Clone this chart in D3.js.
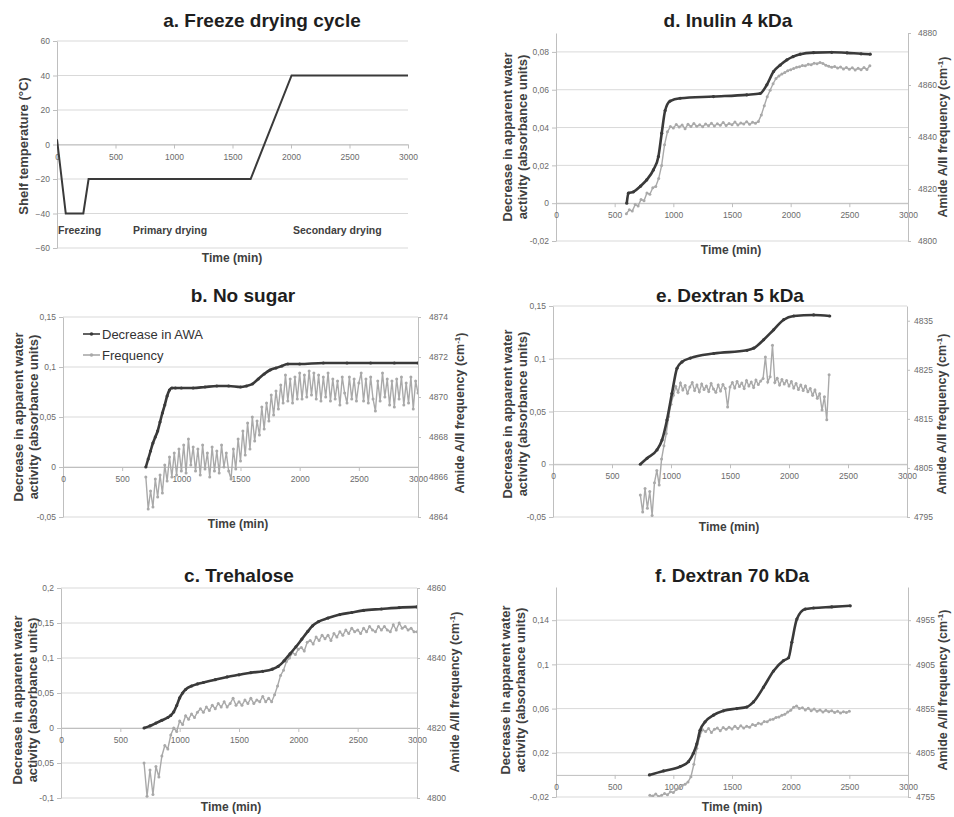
<!DOCTYPE html>
<html>
<head>
<meta charset="utf-8">
<script src="https://cdn.jsdelivr.net/npm/d3@7"></script>
<style>
  body { margin: 0; background: #fff; }
  svg { display: block; font-family: "Liberation Sans", Arial, sans-serif; }
  .tick text { fill: #6b6b6b; font-size: 8.5px; }
  .tick line, .domain { stroke: #bfbfbf; }
</style>
</head>
<body>
<div id="chart"></div>
<script>
// ---------- Data ----------
var timeTicks = [0, 500, 1000, 1500, 2000, 2500, 3000];

// a. shelf temperature program
var aTime = [0, 75, 225, 270, 1655, 2005, 3000];
var aTemp = [3, -40, -40, -20, -20, 40, 40];
var aTicks = [-60, -40, -20, 0, 20, 40, 60];
var aPhases = ["Freezing", "Primary drying", "Secondary drying"];

// b. No sugar
var bAwaTime = [700, 720, 740, 760, 780, 800, 820, 840, 860, 880, 900, 920, 950, 1000, 1100, 1200, 1300, 1400, 1500, 1550, 1600, 1650, 1700, 1750, 1800, 1850, 1900, 2000, 2200, 2400, 2600, 2800, 3000];
var bAwa = [0, 0.008, 0.016, 0.024, 0.03, 0.036, 0.045, 0.054, 0.062, 0.071, 0.077, 0.079, 0.079, 0.079, 0.079, 0.08, 0.081, 0.081, 0.08, 0.081, 0.083, 0.088, 0.093, 0.097, 0.099, 0.101, 0.103, 0.103, 0.104, 0.104, 0.104, 0.104, 0.104];
var bFreqStart = 700, bFreqStep = 20;
var bFreq = [4866.0, 4864.4, 4865.3, 4864.5, 4865.9, 4865.0, 4866.1, 4865.2, 4866.6, 4865.8,
  4867.0, 4866.0, 4867.2, 4866.1, 4867.4, 4866.3, 4867.6, 4866.2, 4867.9, 4866.6,
  4867.5, 4866.3, 4867.4, 4866.1, 4867.6, 4866.4, 4867.2, 4866.0, 4867.5, 4866.3,
  4867.3, 4866.2, 4867.6, 4866.5, 4867.2, 4866.3, 4865.9, 4867.4, 4866.4, 4867.9,
  4866.8, 4868.3, 4867.1, 4868.7, 4867.4, 4869.0, 4867.8, 4868.8, 4868.1, 4869.5,
  4868.4, 4869.7, 4868.8, 4870.1, 4869.1, 4870.3, 4869.4, 4870.6, 4869.7, 4871.1,
  4869.8, 4870.9, 4869.7, 4871.0, 4869.9, 4871.2, 4869.9, 4871.1, 4870.0, 4871.3,
  4870.1, 4871.2, 4869.9, 4871.1, 4869.8, 4871.0, 4870.0, 4871.2, 4869.8, 4870.9,
  4869.9, 4870.8, 4869.6, 4871.0, 4870.2, 4869.7, 4871.0, 4869.9, 4870.9, 4869.8,
  4870.7, 4871.2, 4869.8, 4870.9, 4869.7, 4871.0, 4869.9, 4869.3, 4870.8, 4869.8,
  4871.2, 4870.0, 4870.9, 4869.6, 4870.8, 4869.5, 4870.9, 4869.9, 4871.0, 4869.6,
  4870.7, 4869.7, 4871.0, 4869.4, 4870.8, 4870.2];
var bTicks = [-0.05, 0, 0.05, 0.1, 0.15];
var bFreqTicks = [4864, 4866, 4868, 4870, 4872, 4874];

// c. Trehalose
var cAwaTime = [700, 750, 800, 850, 900, 925, 950, 975, 1000, 1025, 1050, 1100, 1150, 1200, 1300, 1400, 1500, 1600, 1700, 1780, 1830, 1880, 1930, 1980, 2030, 2080, 2120, 2170, 2250, 2350, 2450, 2550, 2700, 2850, 3000];
var cAwa = [0, 0.003, 0.007, 0.011, 0.015, 0.018, 0.023, 0.032, 0.043, 0.05, 0.055, 0.06, 0.063, 0.065, 0.069, 0.073, 0.076, 0.079, 0.081, 0.084, 0.088, 0.096, 0.106, 0.116, 0.127, 0.138, 0.146, 0.152, 0.157, 0.162, 0.165, 0.168, 0.17, 0.172, 0.173];
var cFreqStart = 700, cFreqStep = 25;
var cFreq = [4810, 4800.5, 4808, 4801, 4809, 4806, 4812, 4815, 4814, 4818,
  4820, 4819, 4822, 4821, 4823.5, 4822.5, 4824, 4823, 4824.5, 4825.5,
  4824.5, 4826, 4825, 4826.5, 4825.5, 4827, 4826, 4827.5, 4826, 4827,
  4828.5, 4826.5, 4827.5, 4826.5, 4828, 4827, 4828.5, 4827, 4828, 4827.5,
  4829, 4827.5, 4828.5, 4827.5, 4829.5, 4832, 4835, 4836.5, 4839, 4840,
  4841.5, 4841, 4842.5, 4843, 4842, 4844.5, 4845, 4844, 4846, 4845,
  4846.5, 4845.5, 4846.5, 4845, 4847, 4846, 4847.5, 4846.5, 4848, 4847,
  4848.5, 4847.5, 4848, 4847, 4848.5, 4847.5, 4849, 4848, 4847.5, 4849,
  4848, 4849, 4848, 4847.5, 4849.5, 4848, 4850, 4848.5, 4849, 4848,
  4848.5, 4847.5, 4847.5];
var cTicks = [-0.1, -0.05, 0, 0.05, 0.1, 0.15, 0.2];
var cFreqTicks = [4800, 4820, 4840, 4860];

// d. Inulin 4 kDa
var dAwaTime = [603, 617, 660, 720, 773, 830, 873, 901, 930, 972, 1058, 1342, 1626, 1740, 1797, 1854, 1910, 1968, 2020, 2081, 2195, 2350, 2480, 2600, 2678];
var dAwa = [0, 0.0053, 0.006, 0.009, 0.0123, 0.0176, 0.0247, 0.037, 0.049, 0.054, 0.0555, 0.0564, 0.0573, 0.058, 0.0626, 0.0696, 0.073, 0.0758, 0.0775, 0.0788, 0.0796, 0.0798, 0.0795, 0.079, 0.0788];
var dFreqStart = 600, dFreqStep = 25;
var dFreq = [4810.5, 4812, 4811.5, 4814, 4813.5, 4816, 4815.5, 4818.5, 4818, 4820.5,
  4821, 4824, 4829, 4837, 4842, 4844, 4843.5, 4844.8, 4843.8, 4844.6,
  4843.2, 4844.9, 4844, 4845.2, 4844.1, 4844.7, 4843.9, 4845, 4844.3, 4845.3,
  4844.2, 4845.1, 4844.5, 4845.6, 4844.4, 4845.2, 4844.7, 4845.8, 4844.6, 4845.4,
  4845, 4845.9, 4844.9, 4845.7, 4845.3, 4846, 4848.5, 4852, 4855.5, 4858,
  4860.5, 4862.5, 4863.5, 4864.2, 4864.8, 4865.5, 4865.9, 4866.3, 4866.8, 4867,
  4867.5, 4867.4, 4868, 4867.8, 4868.4, 4868.2, 4868.7, 4868.3, 4867.6, 4867.2,
  4866.8, 4867.1, 4866.5, 4866.9, 4866.2, 4866.7, 4866.1, 4866.6, 4865.8, 4866.4,
  4865.9, 4866.7, 4866, 4867.4];
var dTicks = [-0.02, 0, 0.02, 0.04, 0.06, 0.08];
var dFreqTicks = [4800, 4820, 4840, 4860, 4880];

// e. Dextran 5 kDa
var eAwaTime = [740, 797, 881, 924, 966, 1008, 1051, 1093, 1164, 1362, 1644, 1701, 1785, 1870, 1955, 2040, 2209, 2345];
var eAwa = [0, 0.0057, 0.0136, 0.023, 0.042, 0.067, 0.091, 0.097, 0.1006, 0.105, 0.108, 0.11, 0.118, 0.1275, 0.137, 0.1405, 0.1415, 0.1405];
var eFreqStart = 740, eFreqStep = 20;
var eFreq = [4799.5, 4796, 4800.8, 4796.8, 4800.2, 4795.3, 4802, 4804.5, 4801.5, 4806.8,
  4809.5, 4812, 4815.5, 4818, 4819.8, 4821.6, 4820.4, 4822.3, 4820.9, 4821.8,
  4820.2, 4821.5, 4822.4, 4820.8, 4821.9, 4820.5, 4822.1, 4821, 4821.7, 4820.6,
  4822.2, 4821.1, 4820.4, 4821.9, 4820.7, 4822, 4821.2, 4817.4, 4821.5, 4822.4,
  4821.3, 4822.6, 4821.6, 4822.3, 4821.2, 4822.8, 4821.7, 4822.5, 4821.4, 4822.9,
  4822, 4822.7, 4823.2, 4827.6, 4822.5, 4823.6, 4830, 4822.4, 4823.3, 4821.9,
  4823, 4822.1, 4822.8, 4821.7, 4822.6, 4821.3, 4822.2, 4821, 4821.9, 4820.8,
  4821.7, 4820.5, 4821.2, 4819.8, 4820.9, 4819.2, 4820.1, 4816.8, 4819.5, 4814.8,
  4824];
var eTicks = [-0.05, 0, 0.05, 0.1, 0.15];
var eFreqTicks = [4795, 4805, 4815, 4825, 4835];

// f. Dextran 70 kDa
var fAwaTime = [796, 916, 1058, 1129, 1171, 1200, 1228, 1271, 1342, 1427, 1541, 1626, 1683, 1769, 1854, 1939, 1982, 2010, 2053, 2124, 2195, 2350, 2508];
var fAwa = [0, 0.0036, 0.0075, 0.012, 0.0195, 0.028, 0.0404, 0.048, 0.054, 0.058, 0.06, 0.0614, 0.066, 0.0794, 0.094, 0.1034, 0.106, 0.12, 0.141, 0.15, 0.151, 0.152, 0.153];
var fFreqStart = 800, fFreqStep = 25;
var fFreq = [4757, 4756, 4758.5, 4755.5, 4757, 4759, 4757.5, 4761, 4760, 4763.5,
  4765, 4768, 4769.5, 4772, 4778, 4792, 4810, 4824, 4831, 4829,
  4832.5, 4828, 4831.5, 4833, 4830, 4833.5, 4831.5, 4834, 4832, 4835,
  4832.5, 4835.5, 4833, 4835, 4834, 4837, 4836, 4838.5, 4837.5, 4840.5,
  4840, 4842.5, 4843, 4845, 4845.5, 4847.5, 4848.5, 4851, 4853, 4856.5,
  4858, 4855, 4856, 4853.5, 4855.5, 4852.5, 4854.5, 4852, 4853.5, 4851,
  4853, 4851.5, 4852.5, 4850.5, 4852, 4850, 4851.5, 4850.5, 4852];
var fTicks = [-0.02, 0.02, 0.06, 0.1, 0.14];
var fFreqTicks = [4755, 4805, 4855, 4905, 4955];

// ---------- Drawing ----------
var width = 954, height = 817;
var dark = "#3a3a3a", gray = "#a9a9a9";

var svg = d3.select("#chart").append("svg")
    .attr("width", width)
    .attr("height", height);

function comma(d) { return String(+d.toFixed(3)).replace(".", ","); }
function zip(t, v) { return t.map(function(d, i) { return [d, v[i]]; }); }
function sampled(start, step, v) { return v.map(function(d, i) { return [start + i * step, d]; }); }

function rotLabel(g, x, y, lines) {
    lines.forEach(function(txt, i) {
        g.append("text")
            .attr("transform", "translate(" + (x + i * 15) + "," + y + ")rotate(-90)")
            .attr("text-anchor", "middle").attr("dy", "0.35em")
            .attr("font-size", 13).attr("font-weight", "bold").attr("fill", "#404040")
            .text(txt);
    });
}

function panel(p) {
    var g = svg.append("g");
    var x = d3.scaleLinear().domain([0, 3000]).range([p.left, p.right]);
    var y = d3.scaleLinear().domain(p.yDomain).range([p.bottom, p.top]);

    g.append("clipPath").attr("id", "clip-" + p.id).append("rect")
        .attr("x", p.left).attr("y", p.top - 2)
        .attr("width", p.right - p.left).attr("height", p.bottom - p.top + 2);

    // gridlines
    g.selectAll("line.grid").data(p.yTicks).enter().append("line")
        .attr("class", "grid")
        .attr("x1", p.left).attr("x2", p.right)
        .attr("y1", function(d) { return y(d); }).attr("y2", function(d) { return y(d); })
        .attr("stroke", "#d9d9d9");

    g.append("g").attr("transform", "translate(" + p.left + ",0)")
        .call(d3.axisLeft(y).tickValues(p.yTicks).tickFormat(p.yFormat || comma)
            .tickSize(4).tickPadding(3).tickSizeOuter(0));

    g.append("g").attr("transform", "translate(0," + y(0) + ")")
        .call(d3.axisBottom(x).tickValues(timeTicks).tickFormat(d3.format("d"))
            .tickSize(4).tickPadding(5).tickSizeOuter(0));

    var yR = null;
    if (p.rDomain) {
        yR = d3.scaleLinear().domain(p.rDomain).range([p.bottom, p.top]);
        g.append("g").attr("transform", "translate(" + p.right + ",0)")
            .call(d3.axisRight(yR).tickValues(p.rTicks).tickFormat(d3.format("d"))
                .tickSize(3).tickPadding(p.rPad).tickSizeOuter(0));
    }

    var plot = g.append("g").attr("clip-path", "url(#clip-" + p.id + ")");

    if (p.freq) {
        var lf = d3.line().x(function(d) { return x(d[0]); }).y(function(d) { return yR(d[1]); });
        plot.append("path").datum(p.freq).attr("d", lf)
            .attr("fill", "none").attr("stroke", gray).attr("stroke-width", 1.4);
        plot.selectAll("circle.f").data(p.freq).enter().append("circle")
            .attr("class", "f").attr("r", 1.5).attr("fill", gray)
            .attr("cx", function(d) { return x(d[0]); }).attr("cy", function(d) { return yR(d[1]); });
    }

    var la = d3.line().x(function(d) { return x(d[0]); }).y(function(d) { return y(d[1]); });
    if (p.smooth) la.curve(d3.curveMonotoneX);
    plot.append("path").datum(p.main).attr("d", la)
        .attr("fill", "none").attr("stroke", dark).attr("stroke-width", p.mainWidth || 2.6);
    if (p.freq) {
        plot.selectAll("circle.m").data(p.main).enter().append("circle")
            .attr("class", "m").attr("r", 1.6).attr("fill", dark)
            .attr("cx", function(d) { return x(d[0]); }).attr("cy", function(d) { return y(d[1]); });
    }

    // titles
    g.append("text").attr("x", p.titleX).attr("y", p.titleY).attr("dy", "0.35em")
        .attr("text-anchor", "middle").attr("font-size", 19).attr("font-weight", "bold")
        .attr("fill", "#1e1e1e").text(p.title);
    g.append("text").attr("x", p.timeX).attr("y", p.timeY).attr("dy", "0.35em")
        .attr("text-anchor", "middle").attr("font-size", 12).attr("font-weight", "bold")
        .attr("fill", "#404040").text("Time (min)");

    rotLabel(g, p.yLabelX, p.yLabelY, p.yLabel);

    if (p.rDomain) {
        var t = g.append("text")
            .attr("transform", "translate(" + p.rLabelX + "," + p.rLabelY + ")rotate(-90)")
            .attr("text-anchor", "middle").attr("dy", "0.35em")
            .attr("font-size", 12.5).attr("font-weight", "bold").attr("fill", "#404040");
        t.append("tspan").text("Amide A/II frequency (cm");
        t.append("tspan").attr("font-size", 8).attr("dy", "-0.5em").text("-1");
        t.append("tspan").attr("dy", "0.35em").text(")");
    }
    return { g: g, x: x, y: y };
}

var awaLabel = ["Decrease in apparent water", "activity (absorbance units)"];

// a
var pa = panel({
    id: "a", title: "a. Freeze drying cycle", titleX: 262, titleY: 20,
    left: 57, right: 408, top: 41, bottom: 248,
    yDomain: [-60, 60], yTicks: aTicks, yFormat: d3.format("d"),
    main: zip(aTime, aTemp), mainWidth: 2,
    timeX: 232, timeY: 258, yLabelX: 23, yLabelY: 146, yLabel: ["Shelf temperature (\u00B0C)"]
});
var phaseX = [58, 133, 293];
pa.g.selectAll("text.phase").data(aPhases).enter().append("text")
    .attr("class", "phase")
    .attr("x", function(d, i) { return phaseX[i]; }).attr("y", 230).attr("dy", "0.35em")
    .attr("font-size", 10.5).attr("font-weight", "bold").attr("fill", "#404040")
    .text(function(d) { return d; });

// b
var pb = panel({
    id: "b", title: "b. No sugar", titleX: 243, titleY: 295,
    left: 63, right: 418, top: 317, bottom: 517,
    yDomain: [-0.05, 0.15], yTicks: bTicks,
    rDomain: [4864, 4874], rTicks: bFreqTicks, rPad: 8,
    main: zip(bAwaTime, bAwa), freq: sampled(bFreqStart, bFreqStep, bFreq), smooth: true,
    timeX: 238, timeY: 524, yLabelX: 18, yLabelY: 417, yLabel: awaLabel, rLabelX: 460, rLabelY: 413
});
var legend = [["Decrease in AWA", dark, 334], ["Frequency", gray, 355]];
legend.forEach(function(l) {
    pb.g.append("line").attr("x1", 83).attr("x2", 100).attr("y1", l[2]).attr("y2", l[2])
        .attr("stroke", l[1]).attr("stroke-width", 1.6);
    pb.g.append("circle").attr("cx", 91.5).attr("cy", l[2]).attr("r", 1.8).attr("fill", l[1]);
    pb.g.append("text").attr("x", 102).attr("y", l[2]).attr("dy", "0.35em")
        .attr("font-size", 13).attr("fill", "#333").text(l[0]);
});

// c
panel({
    id: "c", title: "c. Trehalose", titleX: 239, titleY: 575,
    left: 61, right: 417, top: 588, bottom: 798,
    yDomain: [-0.1, 0.2], yTicks: cTicks,
    rDomain: [4800, 4860], rTicks: cFreqTicks, rPad: 7,
    main: zip(cAwaTime, cAwa), freq: sampled(cFreqStart, cFreqStep, cFreq), smooth: true,
    timeX: 231, timeY: 807, yLabelX: 17, yLabelY: 700, yLabel: awaLabel, rLabelX: 455, rLabelY: 692
});

// d
panel({
    id: "d", title: "d. Inulin 4 kDa", titleX: 728, titleY: 20,
    left: 556, right: 908, top: 33, bottom: 241,
    yDomain: [-0.02, 0.09], yTicks: dTicks,
    rDomain: [4800, 4880], rTicks: dFreqTicks, rPad: 7,
    main: zip(dAwaTime, dAwa), freq: sampled(dFreqStart, dFreqStep, dFreq), smooth: true,
    timeX: 731, timeY: 250, yLabelX: 507, yLabelY: 137, yLabel: awaLabel, rLabelX: 943, rLabelY: 137
});

// e
panel({
    id: "e", title: "e. Dextran 5 kDa", titleX: 730, titleY: 295,
    left: 553, right: 907, top: 306, bottom: 517,
    yDomain: [-0.05, 0.15], yTicks: eTicks,
    rDomain: [4795, 4838], rTicks: eFreqTicks, rPad: 4,
    main: zip(eAwaTime, eAwa), freq: sampled(eFreqStart, eFreqStep, eFreq), smooth: true,
    timeX: 729, timeY: 527, yLabelX: 507, yLabelY: 414, yLabel: awaLabel, rLabelX: 942, rLabelY: 414
});

// f
panel({
    id: "f", title: "f. Dextran 70 kDa", titleX: 732, titleY: 575,
    left: 556, right: 908, top: 587, bottom: 797,
    yDomain: [-0.02, 0.17], yTicks: fTicks,
    rDomain: [4755, 4992.5], rTicks: fFreqTicks, rPad: 5,
    main: zip(fAwaTime, fAwa), freq: sampled(fFreqStart, fFreqStep, fFreq), smooth: true,
    timeX: 732, timeY: 807, yLabelX: 505, yLabelY: 690, yLabel: awaLabel, rLabelX: 943, rLabelY: 690
});
</script>
</body>
</html>
